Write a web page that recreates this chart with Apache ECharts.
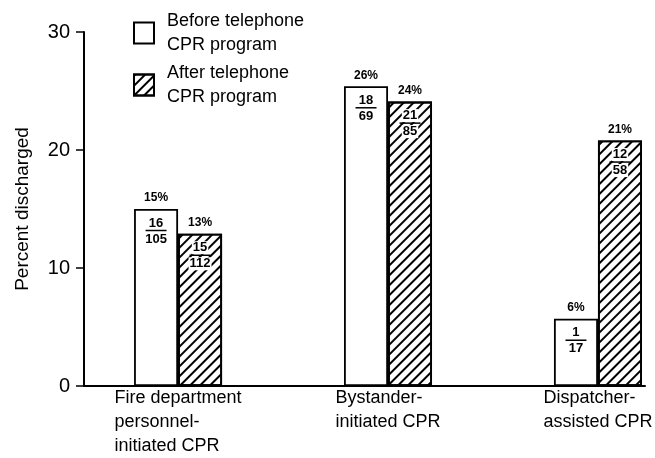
<!DOCTYPE html>
<html>
<head>
<meta charset="utf-8">
<script src="https://cdn.jsdelivr.net/npm/echarts@6/dist/echarts.min.js"></script>
<style>
  html, body { margin: 0; padding: 0; background: #fff; }
  #chart { width: 655px; height: 458px; }
</style>
</head>
<body>
<div id="chart"></div>
<script>
// data
var categories = [
    ['Fire department', 'personnel-', 'initiated CPR'],
    ['Bystander-', 'initiated CPR'],
    ['Dispatcher-', 'assisted CPR']
];
var beforeValues = [15.0, 25.4, 5.7];
var afterValues = [12.9, 24.1, 20.8];
var beforePct = ['15%', '26%', '6%'];
var afterPct = ['13%', '24%', '21%'];
var beforeNum = [16, 18, 1];
var beforeDen = [105, 69, 17];
var afterNum = [15, 21, 12];
var afterDen = [112, 85, 58];
var yTicks = [0, 10, 20, 30];

var box = document.getElementById('chart');
var myChart = echarts.init(box);

var toData = function (values) {
    return values.map(function (v, i) { return [i, v]; });
};

// percent above the bar, fraction inside its top
var barLabel = function (pct, num, den) {
    var digit = { fontSize: 13, fontWeight: 'bold', color: '#000', fontFamily: 'Liberation Sans', backgroundColor: '#fff', padding: [0, 1] };
    return {
        show: true,
        position: 'insideTop',
        distance: -18,
        formatter: function (p) {
            var i = p.dataIndex;
            return '{p|' + pct[i] + '}\n{s| }\n{n|' + num[i] + '}\n{l| }\n{d|' + den[i] + '}';
        },
        rich: {
            p: { fontSize: 12, fontWeight: 'bold', lineHeight: 14, color: '#000', fontFamily: 'Liberation Sans' },
            s: { fontSize: 2, lineHeight: 12 },
            n: Object.assign({ lineHeight: 12 }, digit),
            l: { fontSize: 1, width: 21, height: 1.5, lineHeight: 3, backgroundColor: '#000' },
            d: Object.assign({ lineHeight: 14 }, digit)
        }
    };
};

var option = {
    animation: false,
    backgroundColor: '#fff',
    textStyle: { fontFamily: 'Liberation Sans', color: '#000' },
    legend: {
        orient: 'vertical',
        left: 133,
        top: 9,
        padding: 0,
        icon: 'rect',
        itemWidth: 20,
        itemHeight: 21,
        itemGap: 4,
        textStyle: { fontSize: 18, lineHeight: 24, color: '#000', padding: [0, 0, 0, 8], fontFamily: 'Liberation Sans' },
        data: ['Before telephone\nCPR program', 'After telephone\nCPR program']
    },
    grid: { left: 84, right: 10, top: 32, bottom: 72, outerBoundsMode: 'none', containLabel: false },
    xAxis: {
        type: 'value',
        min: -0.448,
        max: 2.224,
        splitLine: { show: false },
        axisTick: { show: false },
        axisLine: { show: true, lineStyle: { color: '#000', width: 2 } },
        axisLabel: {
            customValues: [0, 1, 2],
            margin: 0,
            color: '#000',
            fontSize: 18,
            lineHeight: 24,
            formatter: function (v) {
                var lines = categories[Math.round(v)] || [];
                return lines.map(function (s) { return '{a|' + s + '}'; }).join('\n');
            },
            rich: {
                a: { align: 'left', fontSize: 18, lineHeight: 24, color: '#000', fontFamily: 'Liberation Sans' }
            }
        }
    },
    yAxis: {
        type: 'value',
        min: yTicks[0],
        max: yTicks[yTicks.length - 1],
        interval: 10,
        name: 'Percent discharged',
        nameLocation: 'middle',
        nameGap: 52,
        nameTextStyle: { fontSize: 19, color: '#000', fontFamily: 'Liberation Sans' },
        splitLine: { show: false },
        axisLine: { show: true, onZero: false, lineStyle: { color: '#000', width: 2 } },
        axisTick: { show: true, length: 8, lineStyle: { color: '#000', width: 1.5 } },
        axisLabel: { margin: 14, fontSize: 20, color: '#000', fontFamily: 'Liberation Sans' }
    },
    series: [{
        name: 'Before telephone\nCPR program',
        type: 'bar',
        barWidth: 44,
        barGap: '0%',
        itemStyle: { color: '#fff', borderColor: '#000', borderWidth: 1.8 },
        label: barLabel(beforePct, beforeNum, beforeDen),
        data: toData(beforeValues)
    }, {
        name: 'After telephone\nCPR program',
        type: 'bar',
        barWidth: 44,
        barGap: '0%',
        itemStyle: {
            color: '#fff',
            borderColor: '#000',
            borderWidth: 1.8,
            decal: {
                symbol: 'rect',
                symbolSize: 1,
                color: '#000',
                dashArrayX: [1, 0],
                dashArrayY: [1.2, 4.3],
                rotation: -Math.PI / 4
            }
        },
        label: barLabel(afterPct, afterNum, afterDen),
        data: toData(afterValues)
    }]
};
myChart.setOption(option);
</script>
</body>
</html>
